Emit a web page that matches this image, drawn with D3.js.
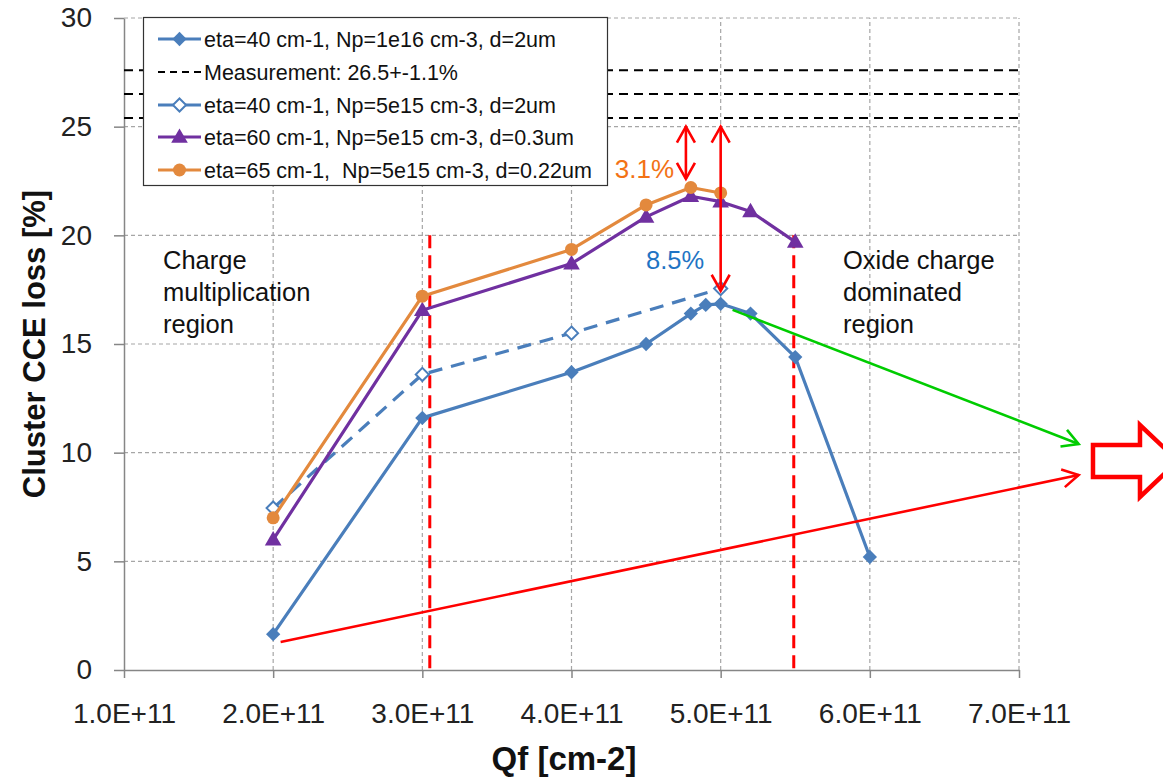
<!DOCTYPE html>
<html><head><meta charset="utf-8">
<script src="https://cdn.jsdelivr.net/npm/d3@7"></script>
<style>body{margin:0;background:#fff}svg{display:block}text{font-family:"Liberation Sans",Arial,sans-serif}</style>
</head><body><svg id="c" width="1163" height="781"></svg>
<script>
// ---- data (x in units of 1E+11 cm-2, y in %) ----
const xTicks = [1,2,3,4,5,6,7];
const xTickLabels = ["1.0E+11","2.0E+11","3.0E+11","4.0E+11","5.0E+11","6.0E+11","7.0E+11"];
const yTicks = [0,5,10,15,20,25,30];

const s1x = [2,3,4,4.5,4.8,4.9,5,5.2,5.5,6];
const s1y = [1.65,11.6,13.7,15.0,16.4,16.8,16.85,16.4,14.4,5.2];
const s2x = [2,3,4,5];
const s2y = [7.45,13.6,15.5,17.55];
const s3x = [2,3,4,4.5,4.8,5,5.2,5.5];
const s3y = [6.0,16.55,18.7,20.85,21.8,21.55,21.1,19.7];
const s4x = [2,3,4,4.5,4.8,5];
const s4y = [7.0,17.2,19.35,21.4,22.2,21.95];
const measY = [27.6,26.5,25.4];

const legendLabels = [
  "eta=40 cm-1, Np=1e16 cm-3, d=2um",
  "Measurement: 26.5+-1.1%",
  "eta=40 cm-1, Np=5e15 cm-3, d=2um",
  "eta=60 cm-1, Np=5e15 cm-3, d=0.3um",
  "eta=65 cm-1,  Np=5e15 cm-3, d=0.22um"
];
const regionLines = [20,0];
const regionX = [3.05,5.49];
const dblArrows = [{x:4.767,y1:25,y2:22.6},{x:5.0,y1:25,y2:17.45}];
const greenArrow = {x1:5.08,y1:16.57,x2:7.40,y2:10.4};
const redArrow = {x1:2.05,y1:1.29,x2:7.40,y2:8.97};
const blockArrowX = [7.496,7.811,7.811,8.066,7.811,7.811,7.496];
const blockArrowY = [10.35,10.35,11.27,9.62,7.96,8.88,8.88];

const W=1163,H=781;
const svg=d3.select("#c");
svg.append("rect").attr("width",W).attr("height",H).attr("fill","#fff");
const x=d3.scaleLinear().domain([1,7]).range([124,1019]);
const y=d3.scaleLinear().domain([0,30]).range([670,18]);

const BLUE="#4a7ebb",PURPLE="#7030a0",ORANGE="#e3893d",RED="#ff0000",GREEN="#00cc00";

// grid
const grid=svg.append("g").attr("stroke","#a6a6a6").attr("stroke-width",1.2).attr("stroke-dasharray","4,3");
yTicks.filter(v=>v>0).forEach(v=>grid.append("line").attr("x1",x(1)).attr("x2",x(7)).attr("y1",y(v)).attr("y2",y(v)));
xTicks.filter(v=>v>1).forEach(v=>grid.append("line").attr("x1",x(v)).attr("x2",x(v)).attr("y1",y(0)).attr("y2",y(30)));

// axes
const ax=svg.append("g").attr("transform",`translate(${x(1)},0)`)
  .call(d3.axisLeft(y).tickValues(yTicks).tickSize(10).tickSizeOuter(0).tickPadding(22));
const bx=svg.append("g").attr("transform",`translate(0,${y(0)})`)
  .call(d3.axisBottom(x).tickValues(xTicks).tickFormat((d,i)=>xTickLabels[i]).tickSize(8).tickSizeOuter(0).tickPadding(25));
[ax,bx].forEach(g=>{g.selectAll("path,line").attr("stroke","#868686").attr("stroke-width",1.5);
  g.selectAll("text").attr("font-size",28).attr("fill","#222").attr("font-family","'Liberation Sans',Arial,sans-serif");});

// axis titles
svg.append("text").attr("transform",`translate(45,344) rotate(-90)`).attr("text-anchor","middle")
  .attr("font-size",31).attr("font-weight","bold").attr("fill","#111").text("Cluster CCE loss [%]");
svg.append("text").attr("x",564).attr("y",770).attr("text-anchor","middle")
  .attr("font-size",33).attr("font-weight","bold").attr("fill","#111").text("Qf [cm-2]");

// measurement lines
measY.forEach(v=>svg.append("line").attr("x1",x(1)).attr("x2",x(7)).attr("y1",y(v)).attr("y2",y(v))
  .attr("stroke","#000").attr("stroke-width",2).attr("stroke-dasharray","9,6"));

// region dashed red lines
regionX.forEach(v=>svg.append("line").attr("x1",x(v)).attr("x2",x(v)).attr("y1",y(regionLines[0])).attr("y2",y(regionLines[1]))
  .attr("stroke",RED).attr("stroke-width",3).attr("stroke-dasharray","13,7"));

const line=d3.line().x(d=>x(d[0])).y(d=>y(d[1]));
function series(xs,ys,color,dash,marker){
  const pts=xs.map((v,i)=>[v,ys[i]]);
  svg.append("path").attr("d",line(pts)).attr("fill","none").attr("stroke",color).attr("stroke-width",3.2)
    .attr("stroke-dasharray",dash||null).attr("stroke-linejoin","round");
  pts.forEach(p=>drawMarker(svg,x(p[0]),y(p[1]),color,marker));
}
function drawMarker(g,cx,cy,color,m){
  if(m==="diamond") g.append("path").attr("d",d3.symbol(d3.symbolDiamond2,130)()).attr("transform",`translate(${cx},${cy})`).attr("fill",color);
  else if(m==="odiamond") g.append("path").attr("d",d3.symbol(d3.symbolDiamond2,110)()).attr("transform",`translate(${cx},${cy})`).attr("fill","#fff").attr("stroke",color).attr("stroke-width",2);
  else if(m==="triangle") g.append("path").attr("d",d3.symbol(d3.symbolTriangle,120)()).attr("transform",`translate(${cx},${cy+1})`).attr("fill",color);
  else if(m==="circle") g.append("circle").attr("cx",cx).attr("cy",cy).attr("r",6.5).attr("fill",color);
}
series(s1x,s1y,BLUE,null,"diamond");
series(s2x,s2y,BLUE,"14,9","odiamond");
series(s3x,s3y,PURPLE,null,"triangle");
series(s4x,s4y,ORANGE,null,"circle");

// arrows
function chevron(g,tx,ty,fx,fy,color,len,half){
  const a=Math.atan2(ty-fy,tx-fx);
  const bx=tx-len*Math.cos(a),by=ty-len*Math.sin(a);
  const px=-Math.sin(a)*half,py=Math.cos(a)*half;
  g.append("path").attr("d",`M${bx+px},${by+py}L${tx},${ty}L${bx-px},${by-py}`).attr("fill","none")
   .attr("stroke",color).attr("stroke-width",2.6).attr("stroke-linejoin","miter");
}
function arrowLine(a,color,both){
  const X1=x(a.x1),Y1=y(a.y1),X2=x(a.x2),Y2=y(a.y2);
  svg.append("line").attr("x1",X1).attr("y1",Y1).attr("x2",X2).attr("y2",Y2).attr("stroke",color).attr("stroke-width",2.6);
  chevron(svg,X2,Y2,X1,Y1,color,16,9);
  if(both) chevron(svg,X1,Y1,X2,Y2,color,16,9);
}
dblArrows.forEach(d=>arrowLine({x1:d.x,y1:d.y1,x2:d.x,y2:d.y2},RED,true));
arrowLine(greenArrow,GREEN,false);
arrowLine(redArrow,RED,false);
svg.append("path").attr("d",d3.line()(blockArrowX.map((v,i)=>[x(v),y(blockArrowY[i])]))+"Z")
  .attr("fill","#fff").attr("stroke",RED).attr("stroke-width",4.5).attr("stroke-linejoin","miter");

// annotations
function multi(lines,xv,yv,dy){
  const t=svg.append("text").attr("font-size",25.5).attr("fill","#111");
  lines.forEach((s,i)=>t.append("tspan").attr("x",x(xv)).attr("y",y(yv)+i*dy).text(s));
}
multi(["Charge","multiplication","region"],1.2615,18.45,32);
multi(["Oxide charge","dominated","region"],5.82,18.45,32);
svg.append("text").attr("x",x(4.29)).attr("y",y(22.64)).attr("font-size",26).attr("fill","#f37215").text("3.1%");
svg.append("text").attr("x",x(4.5)).attr("y",y(18.45)).attr("font-size",25.5).attr("fill","#1f74c4").text("8.5%");

// legend
const lg=svg.append("g");
lg.append("rect").attr("x",143.5).attr("y",17.5).attr("width",464).attr("height",168).attr("fill","#fff").attr("stroke","#333").attr("stroke-width",1.2);
const rows=[39,72,105,137,170];
const lst=[{c:BLUE,m:"diamond"},{c:"#000",m:null,dash:"7,5",w:2},{c:BLUE,m:"odiamond"},{c:PURPLE,m:"triangle"},{c:ORANGE,m:"circle"}];
legendLabels.forEach((s,i)=>{
  const r=rows[i],o=lst[i];
  lg.append("line").attr("x1",158).attr("x2",201).attr("y1",r).attr("y2",r).attr("stroke",o.c).attr("stroke-width",o.w||3.2).attr("stroke-dasharray",o.dash||null);
  if(o.m) drawMarker(lg,179.5,r,o.c,o.m);
  lg.append("text").attr("x",204).attr("y",r).attr("dy","0.35em").attr("font-size",21.5).attr("fill","#111")
    .style("white-space","pre").text(s);
});
</script></body></html>
